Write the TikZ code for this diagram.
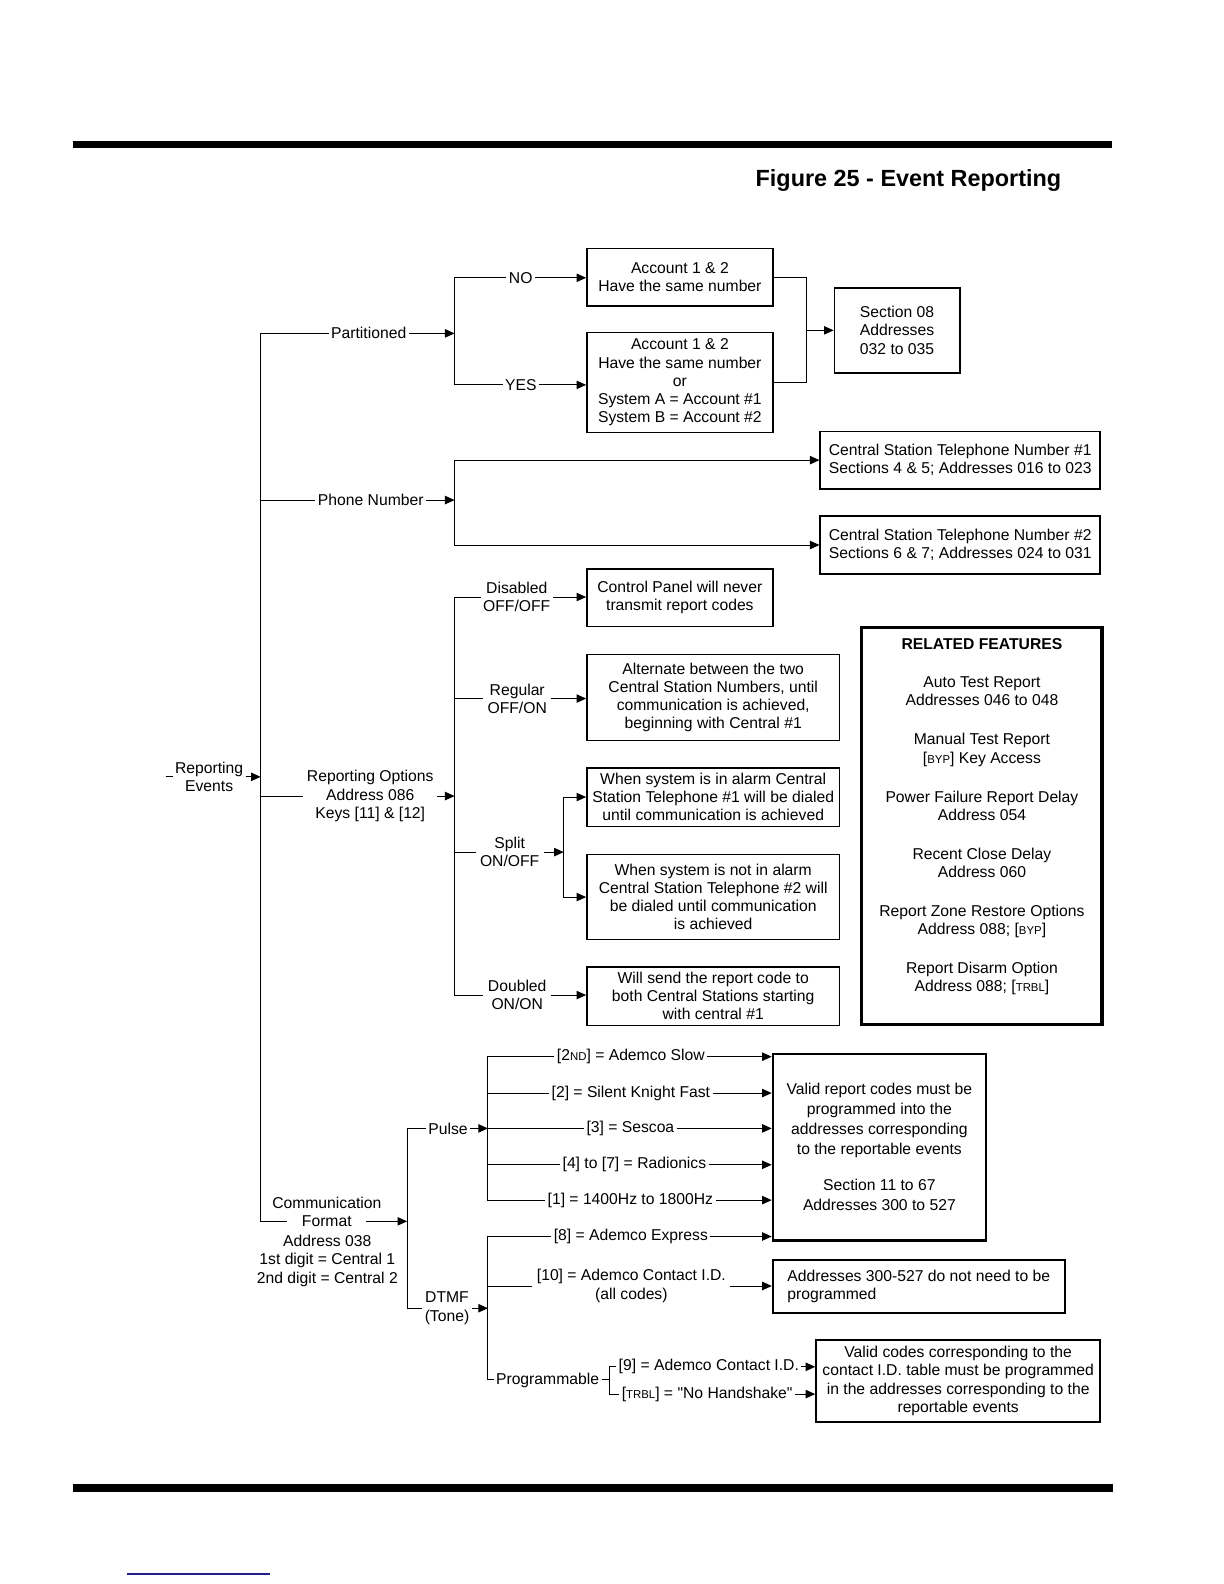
\documentclass[tikz,border=0pt]{standalone}
\usepackage{fontspec}
\setmainfont{Liberation Sans}[Ligatures=TeXOff]
\usetikzlibrary{arrows.meta}
\definecolor{linkblue}{RGB}{35,30,140}
\newcommand{\px}{0.5051pt}
\newcommand{\keycap}[1]{{\fontsize{5.7pt}{6pt}\selectfont #1}}
\tikzset{
  txt/.style={font=\fontsize{7.85pt}{9.1pt}\selectfont},
  lbl/.style={txt, align=center, inner xsep=1pt, inner ysep=0.5pt},
  lbltwo/.style={lbl, inner xsep=2pt},
  box/.style={txt, draw, line width=0.8pt, align=center, inner sep=0pt},
  arr/.style={-{Triangle[length=4.8pt,width=4.2pt]}},
  wire/.style={line width=0.5pt},
}
\begin{document}
\begin{tikzpicture}[x=\px, y=-\px, wire]
\useasboundingbox (0,0) rectangle (1211.6,1568);

% page rules and title
\draw[line width=3.5pt] (72,143.5) -- (1101,143.5);
\draw[line width=4pt] (72,1473) -- (1102,1473);
\draw[line width=0.8pt, linkblue] (126,1558) -- (267,1558);
\node[anchor=east, inner sep=0pt, font=\fontsize{11.7pt}{14pt}\selectfont\bfseries] (title) at (1051,179) {Figure 25 - Event Reporting};

% boxes
\node[box, minimum width=184*\px, minimum height=57*\px] (acc1) at (673,274.5) {Account 1 \& 2\\Have the same number};
\node[box, minimum width=184*\px, minimum height=99*\px] (acc2) at (673,378.5) {Account 1 \& 2\\Have the same number\\or\\System A = Account \#1\\System B = Account \#2};
\node[box, minimum width=124*\px, minimum height=84*\px] (sect) at (888,327) {Section 08\\Addresses\\032 to 035};
\node[box, align=left, minimum width=277*\px, minimum height=57*\px] (cs1) at (950.5,455.5) {Central Station Telephone Number \#1\\Sections 4 \& 5; Addresses 016 to 023};
\node[box, align=left, minimum width=277*\px, minimum height=57*\px] (cs2) at (950.5,539.5) {Central Station Telephone Number \#2\\Sections 6 \& 7; Addresses 024 to 031};
\node[box, minimum width=184*\px, minimum height=57*\px] (disbox) at (673,591.5) {Control Panel will never\\transmit report codes};
\node[box, minimum width=250*\px, minimum height=85*\px] (regbox) at (706,690.5) {Alternate between the two\\Central Station Numbers, until\\communication is achieved,\\beginning with Central \#1};
\node[box, minimum width=250*\px, minimum height=58*\px] (spl1) at (706,789) {When system is in alarm Central\\Station Telephone \#1 will be dialed\\until communication is achieved};
\node[box, minimum width=250*\px, minimum height=84*\px] (spl2) at (706,888) {When system is not in alarm\\Central Station Telephone \#2 will\\be dialed until communication\\is achieved};
\node[box, minimum width=250*\px, minimum height=58*\px] (dblbox) at (706,986) {Will send the report code to\\both Central Stations starting\\with central \#1};
\node[box, line width=1.1pt, font=\fontsize{7.85pt}{10pt}\selectfont, minimum width=211*\px, minimum height=185*\px] (valid) at (870.5,1135.5) {Valid report codes must be\\programmed into the\\addresses corresponding\\to the reportable events\\[7.9pt]Section 11 to 67\\Addresses 300 to 527};
\node[box, line width=1pt, align=left, minimum width=289*\px, minimum height=53*\px] (noprog) at (909.5,1273.5) {Addresses 300-527 do not need to be\\programmed};
\node[box, line width=1pt, minimum width=281*\px, minimum height=82*\px] (cidbox) at (948.5,1367) {Valid codes corresponding to the\\contact I.D. table must be programmed\\in the addresses corresponding to the\\reportable events};

% related features
\node[draw, line width=1.7pt, minimum width=238*\px, minimum height=393*\px] (related) at (972,817.5) {};
\node[txt, align=center] (relatedtxt) at (972,808.5) {\textbf{RELATED FEATURES}\\[10.1pt]
  Auto Test Report\\Addresses 046 to 048\\[10.4pt]
  Manual Test Report\\{[}\keycap{BYP}] Key Access\\[10.4pt]
  Power Failure Report Delay\\Address 054\\[10.4pt]
  Recent Close Delay\\Address 060\\[10.4pt]
  Report Zone Restore Options\\Address 088; [\keycap{BYP}]\\[10.4pt]
  Report Disarm Option\\Address 088; [\keycap{TRBL}]};

% trunk
\node[lbltwo, inner xsep=1pt] (events) at (207,769) {Reporting\\Events};
\coordinate (eventsin) at (164,769);
\coordinate (trunktop) at (258,330);
\node[lbl] (comm) at (323.5,1191) {Communication};
\node[lbl, inner xsep=7pt] (fmt) at (323.5,1209) {Format};
\node[lbl] (addr) at (324,1248) {Address 038\\1st digit = Central 1\\2nd digit = Central 2};
\draw (eventsin) -- (events.west);
\draw[arr] (events.east) -- (events.east -| trunktop);
\draw (trunktop) -- (trunktop |- fmt.west) -- (fmt.west);

% partitioned
\node[lbl] (part) at (365,330) {Partitioned};
\coordinate (partsplit) at (450,330);
\node[lbl] (no) at (515.5,275) {NO};
\node[lbl] (yes) at (515.5,381) {YES};
\draw (trunktop) -- (part.west);
\draw[arr] (part.east) -- (partsplit);
\draw (no.west) -| (partsplit) |- (yes.west);
\draw[arr] (no.east) -- (no -| acc1.west);
\draw[arr] (yes.east) -- (yes -| acc2.west);
\coordinate (accmerge) at (798,327);
\draw (acc1.east) -| (accmerge) |- (acc2.east);
\draw[arr] (accmerge) -- (sect.west);

% phone number
\node[lbl] (phone) at (367,495) {Phone Number};
\coordinate (phonesplit) at (450,495);
\draw (trunktop |- phone) -- (phone.west);
\draw[arr] (phone.east) -- (phonesplit);
\draw[arr] (phonesplit) |- (cs1.west);
\draw[arr] (phonesplit) |- (cs2.west);

% reporting options
\node[lbl, inner xsep=1.5pt] (ropt) at (366.5,788) {Reporting Options\\Address 086\\Keys [11] \& [12]};
\coordinate (roptsplit) at (450,788);
\node[lbltwo, inner xsep=1pt] (dis) at (511.5,591) {Disabled\\OFF/OFF};
\node[lbltwo] (reg) at (512,691.5) {Regular\\OFF/ON};
\node[lbltwo] (split) at (504.5,843.5) {Split\\ON/OFF};
\node[lbltwo] (dbl) at (512,985) {Doubled\\ON/ON};
\draw (trunktop |- ropt) -- (ropt.west);
\draw[arr] (ropt.east) -- (roptsplit);
\draw (dis.west) -| (roptsplit) |- (dbl.west);
\draw (roptsplit |- reg) -- (reg.west);
\draw (roptsplit |- split) -- (split.west);
\draw[arr] (dis.east) -- (dis -| disbox.west);
\draw[arr] (reg.east) -- (reg -| regbox.west);
\draw[arr] (dbl.east) -- (dbl -| dblbox.west);
\coordinate (splitsplit) at (558,843.5);
\draw[arr] (split.east) -- (splitsplit);
\draw[arr] (splitsplit) |- (spl1.west);
\draw[arr] (splitsplit) |- (spl2.west);

% communication format
\coordinate (fmtsplit) at (403,1209);
\node[lbl] (pulse) at (443.5,1117) {Pulse};
\node[lbltwo, inner xsep=1pt] (dtmf) at (442.5,1295) {DTMF\\(Tone)};
\draw[arr] (fmt.east) -- (fmtsplit);
\draw (pulse.west) -| (fmtsplit) |- (dtmf.west);

% pulse formats
\coordinate (pulsesplit) at (483,1117);
\node[lbl] (slow) at (624.5,1046) {[2\keycap{ND}] = Ademco Slow};
\node[lbl] (knight) at (624.5,1082) {[2] = Silent Knight Fast};
\node[lbl] (sescoa) at (624,1117) {[3] = Sescoa};
\node[lbl] (radionics) at (628,1153) {[4] to [7] = Radionics};
\node[lbl] (hz) at (624,1188) {[1] = 1400Hz to 1800Hz};
\draw[arr] (pulse.east) -- (pulsesplit);
\draw (slow.west) -| (pulsesplit) |- (hz.west);
\draw (pulsesplit |- knight) -- (knight.west);
\draw (pulsesplit) -- (sescoa.west);
\draw (pulsesplit |- radionics) -- (radionics.west);
\foreach \f in {slow,knight,sescoa,radionics,hz}
  \draw[arr] (\f.east) -- (\f -| valid.west);

% dtmf formats
\coordinate (dtmfsplit) at (483,1295);
\node[lbl] (express) at (624.5,1224) {[8] = Ademco Express};
\node[lbltwo] (cid10) at (625,1273) {[10] = Ademco Contact I.D.\\(all codes)};
\node[lbl] (prog) at (542,1366) {Programmable};
\draw[arr] (dtmf.east) -- (dtmfsplit);
\draw (express.west) -| (dtmfsplit) |- (prog.west);
\draw (dtmfsplit |- cid10) -- (cid10.west);
\draw[arr] (express.east) -- (express -| valid.west);
\draw[arr] (cid10.east) -- (cid10 -| noprog.west);

% programmable
\coordinate (progsplit) at (603,1366);
\node[lbl, anchor=west] (cid9) at (610,1353) {[9] = Ademco Contact I.D.};
\node[lbl, anchor=west] (trbl) at (613,1380) {[\keycap{TRBL}] = "No Handshake"};
\draw (prog.east) -- (progsplit);
\draw (cid9.west) -| (progsplit) |- (trbl.west);
\draw[arr] (cid9.east) -- (cid9 -| cidbox.west);
\draw[arr] (trbl.east) -- (trbl -| cidbox.west);
\end{tikzpicture}
\end{document}
